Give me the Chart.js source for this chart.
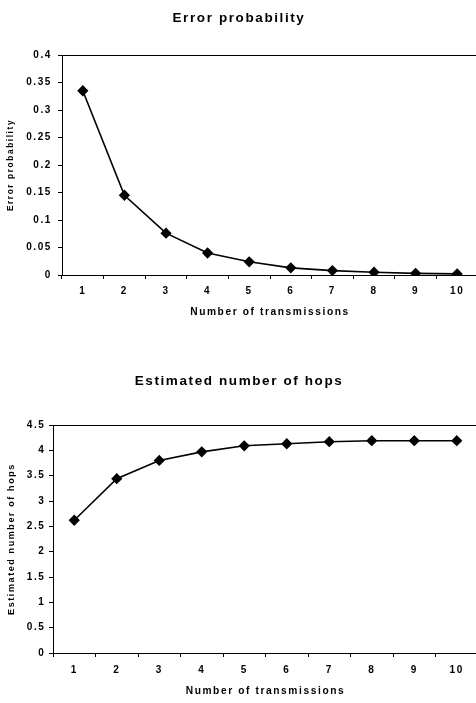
<!DOCTYPE html>
<html>
<head>
<meta charset="utf-8">
<script src="https://cdn.jsdelivr.net/npm/chart.js@4"></script>
<style>
    body { margin: 0; background: #fff; overflow: hidden; }
    canvas { position: absolute; left: 0; }
    #errorChart { top: 0; }
    #hopsChart { top: 330px; }
</style>
</head>
<body>
<canvas id="errorChart" width="478" height="330"></canvas>
<canvas id="hopsChart" width="478" height="373"></canvas>
<script>
const transmissions = ['1', '2', '3', '4', '5', '6', '7', '8', '9', '10'];
const errorProbability = [0.335, 0.145, 0.076, 0.040, 0.024, 0.013, 0.008, 0.005, 0.003, 0.002];
const estimatedHops = [2.62, 3.44, 3.80, 3.97, 4.09, 4.13, 4.17, 4.19, 4.19, 4.19];
const errorTicks = [0, 0.05, 0.1, 0.15, 0.2, 0.25, 0.3, 0.35, 0.4];
const hopsTicks = [0, 0.5, 1, 1.5, 2, 2.5, 3, 3.5, 4, 4.5];

const FONT = 'Liberation Sans, Arial, sans-serif';
Chart.defaults.color = '#000';
Chart.defaults.font.family = FONT;
Chart.defaults.animation = false;

// spread letters a bit, the scanned original is wide
const spacingPlugin = {
    id: 'spacing',
    beforeUpdate(chart) { chart.ctx.letterSpacing = '1.6px'; },
    beforeDraw(chart) { chart.ctx.letterSpacing = '1.6px'; }
};

// black frame around the plot area
const framePlugin = {
    id: 'frame',
    afterDraw(chart) {
        const a = chart.chartArea;
        const ctx = chart.ctx;
        ctx.save();
        ctx.strokeStyle = '#000';
        ctx.lineWidth = 1;
        ctx.strokeRect(a.left + 0.5, a.top + 0.5, a.right - a.left, a.bottom - a.top);
        ctx.restore();
    }
};

function makeChart(id, opts) {
    const ctx = document.getElementById(id).getContext('2d');
    return new Chart(ctx, {
        type: 'line',
        data: {
            labels: transmissions,
            datasets: [{
                data: opts.values,
                borderColor: '#000',
                backgroundColor: '#000',
                borderWidth: 1.6,
                tension: 0,
                pointStyle: 'rectRot',
                pointRadius: 4.5,
                pointBackgroundColor: '#000',
                pointBorderColor: '#000'
            }]
        },
        options: {
            responsive: false,
            layout: { padding: 0, autoPadding: false },
            plugins: {
                legend: { display: false },
                tooltip: { enabled: false },
                title: {
                    display: true,
                    text: opts.title,
                    color: '#000',
                    font: { size: 13.5, weight: 'bold', lineHeight: 1.2 },
                    padding: opts.titlePadding
                }
            },
            scales: {
                x: {
                    offset: true,
                    afterFit: s => {
                        s.height = opts.xHeight;
                        s.paddingRight = 0;
                        s.paddingLeft = 0;
                    },
                    grid: { offset: true, drawOnChartArea: false, color: '#000', tickLength: 4 },
                    border: { color: '#000', width: 1 },
                    ticks: { font: { size: 10, weight: 'bold' }, padding: opts.xTickPad, maxRotation: 0 },
                    title: {
                        display: true,
                        text: 'Number of transmissions',
                        font: { size: 10.2, weight: 'bold', lineHeight: 1.2 },
                        padding: { top: 0, bottom: opts.xTitlePad }
                    }
                },
                y: {
                    min: 0,
                    max: opts.ticks[opts.ticks.length - 1],
                    afterFit: s => { s.width = opts.yWidth; },
                    afterBuildTicks: s => { s.ticks = opts.ticks.map(v => ({ value: v })); },
                    grid: { drawOnChartArea: false, color: '#000', tickLength: 4 },
                    border: { color: '#000', width: 1 },
                    ticks: {
                        font: { size: 10, weight: 'bold' },
                        padding: opts.yTickPad,
                        callback: v => String(v)
                    },
                    title: {
                        display: true,
                        text: opts.yTitle,
                        font: { size: opts.yTitleSize, weight: 'bold', lineHeight: 1.2 },
                        padding: { top: 6, bottom: 0 }
                    }
                }
            }
        },
        plugins: [spacingPlugin, framePlugin]
    });
}

makeChart('errorChart', {
    title: 'Error probability',
    yTitle: 'Error probability',
    yTitleSize: 8.3,
    values: errorProbability,
    ticks: errorTicks,
    titlePadding: { top: 10.4, bottom: 28.4 },
    xHeight: 55,
    xTickPad: 6,
    xTitlePad: 11.5,
    yWidth: 62,
    yTickPad: 6
});

makeChart('hopsChart', {
    title: 'Estimated number of hops',
    yTitle: 'Estimated number of hops',
    yTitleSize: 9,
    values: estimatedHops,
    ticks: hopsTicks,
    titlePadding: { top: 43.4, bottom: 35.4 },
    xHeight: 50,
    xTickPad: 7,
    xTitlePad: 5.5,
    yWidth: 53,
    yTickPad: 3.5
});
</script>
</body>
</html>
